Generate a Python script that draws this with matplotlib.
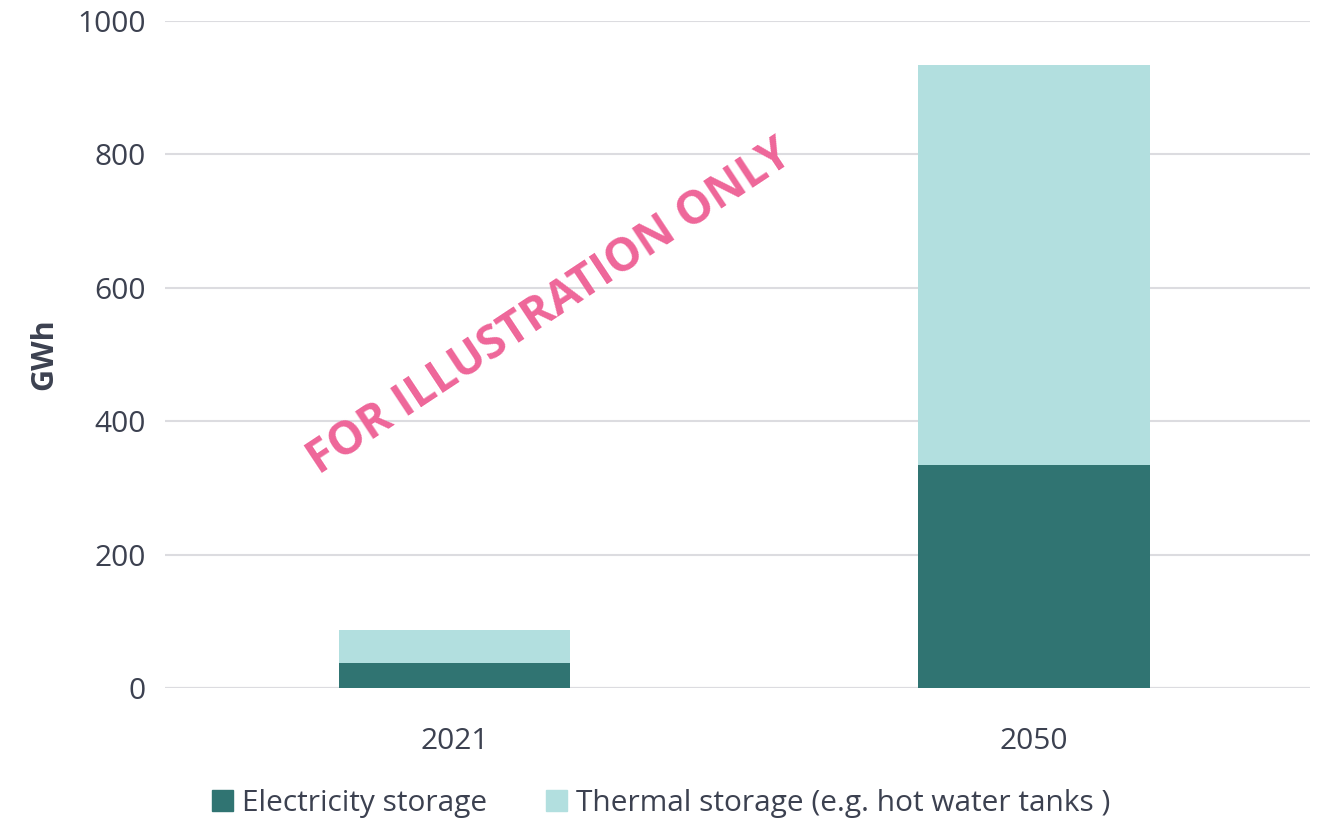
import numpy as np
import matplotlib.pyplot as plt
from matplotlib.patches import Patch

years = ['2021', '2050']
electricity = [37, 334]
thermal = [50, 600]
series_names = ['Electricity storage', 'Thermal storage (e.g. hot water tanks )']
colors = ['#307472', '#B2DFDF']

plt.rcParams['font.family'] = ['Open Sans', 'DejaVu Sans']
txt = '#3C4150'

fig = plt.figure(figsize=(13.25, 8.19), dpi=100)
ax = fig.add_axes([0.1245, 0.16, 0.8642, 0.8144])

x = np.arange(len(years))
ax.bar(x, electricity, width=0.4, color=colors[0], zorder=3)
ax.bar(x, thermal, width=0.4, bottom=electricity, color=colors[1], zorder=3)

ax.set_xlim(-0.5, 1.477)
ax.set_ylim(0, 1000)
ax.set_yticks(range(0, 1001, 200))
ax.set_xticks(x)
ax.set_xticklabels(years)
ax.yaxis.grid(True, color='#DCDCE0', linewidth=1.5, zorder=0)
for s in ax.spines.values():
    s.set_visible(False)
ax.axhline(0, color='#DCDCE0', linewidth=1.5, zorder=1)
ax.tick_params(length=0, labelsize=21.5, colors=txt, pad=14)
ax.tick_params(axis='x', pad=28)
ax.set_ylabel('GWh', fontsize=22, fontweight='bold', color=txt, labelpad=13)

ax.text(0.164, 571, 'FOR ILLUSTRATION ONLY', transform=ax.transData,
        fontsize=33, fontweight='bold', color='#EE6699', rotation=33.5,
        ha='center', va='center', rotation_mode='anchor', zorder=5)

handles = [Patch(color=c) for c in colors]
fig.legend(handles, series_names, loc='lower center', bbox_to_anchor=(0.499, -0.031),
           ncol=2, frameon=False, fontsize=21.5, labelcolor=txt,
           handlelength=0.7, handleheight=0.7, columnspacing=2.0, handletextpad=0.3)

fig.savefig('out.png', dpi=100)
